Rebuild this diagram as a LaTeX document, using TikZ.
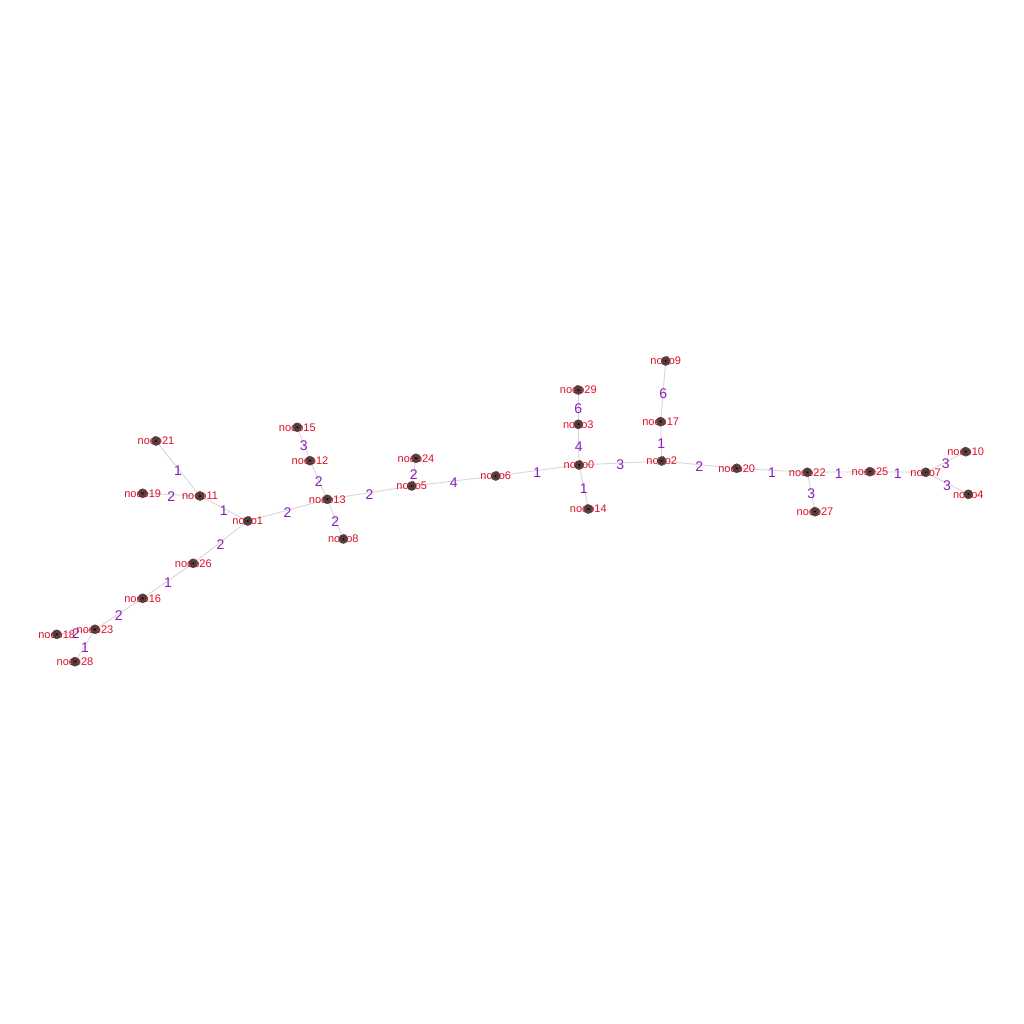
\documentclass[tikz,border=0pt]{standalone}
\usepackage{fontspec}
\setmainfont{Liberation Sans}
\definecolor{nodelab}{RGB}{220,16,40}
\definecolor{wlabc}{RGB}{140,28,190}
\definecolor{edgec}{RGB}{212,212,212}
\definecolor{vfill}{RGB}{64,52,52}
\definecolor{vring}{RGB}{120,50,50}
\begin{document}
\begin{tikzpicture}[x=1pt,y=-1pt,
  edge/.style={draw=edgec, line width=0.8pt},
  wlab/.style={text=wlabc, font=\fontsize{14}{14}\selectfont, inner sep=0pt, yshift=-2pt},
  nlab/.style={text=nodelab, font=\fontsize{11}{11}\selectfont, inner sep=0pt},
  vtx/.style={circle, inner sep=0pt, minimum size=9pt, fill=vfill, draw=vring, line width=0.6pt, opacity=0.9},
  vdot/.style={circle, inner sep=0pt, minimum size=2pt, fill=black}]
\fill[white] (0,0) rectangle (1024,1024);
\useasboundingbox (0,0) rectangle (1024,1024);
\foreach \i/\x/\y in {0/579/465, 1/247.7/521, 2/661.7/461, 3/578.3/424.3, 4/968.3/494.3,
  5/411.7/486, 6/495.7/476, 7/925.7/472.3, 8/343.3/539, 9/665.7/361,
  10/965.7/451.7, 11/200/496, 12/310/460.7, 13/327.3/499.3, 14/588.3/509,
  15/297.3/427.3, 16/142.7/598.3, 17/660.7/421.7, 18/56.7/634.3, 19/142.7/493.3,
  20/736.7/468.3, 21/156/441, 22/807.3/472.3, 23/95/629.3, 24/416/458.3,
  25/870/471.7, 26/193.3/563.3, 27/815/511.7, 28/75/661.7, 29/578.3/390}
  \coordinate (n\i) at (\x,\y);
% edges
\draw[edge] (n0) -- node[wlab]{1} (n6);
\draw[edge] (n3) -- node[wlab]{4} (n0);
\draw[edge] (n0) -- node[wlab]{1} (n14);
\draw[edge] (n0) -- node[wlab]{3} (n2);
\draw[edge] (n29) -- node[wlab]{6} (n3);
\draw[edge] (n17) -- node[wlab]{1} (n2);
\draw[edge] (n9) -- node[wlab]{6} (n17);
\draw[edge] (n2) -- node[wlab]{2} (n20);
\draw[edge] (n20) -- node[wlab]{1} (n22);
\draw[edge] (n22) -- node[wlab]{3} (n27);
\draw[edge] (n22) -- node[wlab]{1} (n25);
\draw[edge] (n25) -- node[wlab]{1} (n7);
\draw[edge] (n7) -- node[wlab]{3} (n10);
\draw[edge] (n7) -- node[wlab]{3} (n4);
\draw[edge] (n5) -- node[wlab]{4} (n6);
\draw[edge] (n24) -- node[wlab]{2} (n5);
\draw[edge] (n13) -- node[wlab]{2} (n5);
\draw[edge] (n12) -- node[wlab]{2} (n13);
\draw[edge] (n15) -- node[wlab]{3} (n12);
\draw[edge] (n13) -- node[wlab]{2} (n8);
\draw[edge] (n1) -- node[wlab]{2} (n13);
\draw[edge] (n11) -- node[wlab]{1} (n1);
\draw[edge] (n21) -- node[wlab]{1} (n11);
\draw[edge] (n19) -- node[wlab]{2} (n11);
\draw[edge] (n1) -- node[wlab]{2} (n26);
\draw[edge] (n26) -- node[wlab]{1} (n16);
\draw[edge] (n16) -- node[wlab]{2} (n23);
\draw[edge] (n23) -- node[wlab]{2} (n18);
\draw[edge] (n23) -- node[wlab]{1} (n28);
% node labels and vertices
\foreach \i in {0,...,29} {
  \node[nlab] (t\i) at (n\i) {nodo\i};
}
\foreach \i in {0,...,29} {
  \node[vtx] (c\i) at (n\i) {};
  \node[vdot] (d\i) at (n\i) {};
}
\end{tikzpicture}
\end{document}
